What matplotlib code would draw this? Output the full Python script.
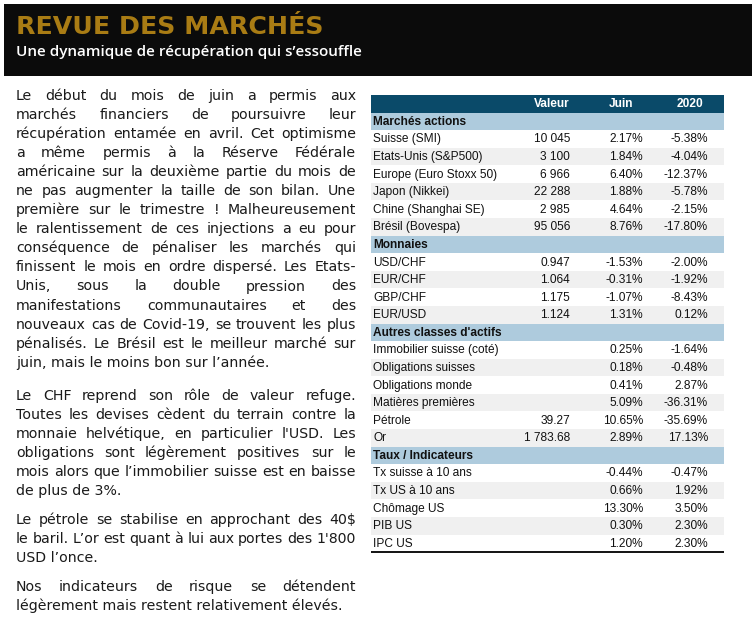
import matplotlib
matplotlib.use("Agg")
import matplotlib.pyplot as plt
from matplotlib.patches import Rectangle

plt.rcParams['text.parse_math'] = False

# --- data -----------------------------------------------------------------
title = "REVUE DES MARCHÉS"
subtitle = "Une dynamique de récupération qui s’essouffle"

paragraphs = [
    ["Le début du mois de juin a permis aux",
     "marchés financiers de poursuivre leur",
     "récupération entamée en avril. Cet optimisme",
     "a même permis à la Réserve Fédérale",
     "américaine sur la deuxième partie du mois de",
     "ne pas augmenter la taille de son bilan. Une",
     "première sur le trimestre ! Malheureusement",
     "le ralentissement de ces injections a eu pour",
     "conséquence de pénaliser les marchés qui",
     "finissent le mois en ordre dispersé. Les Etats-",
     "Unis, sous la double pression des",
     "manifestations communautaires et des",
     "nouveaux cas de Covid-19, se trouvent les plus",
     "pénalisés. Le Brésil est le meilleur marché sur",
     "juin, mais le moins bon sur l’année."],
    ["Le CHF reprend son rôle de valeur refuge.",
     "Toutes les devises cèdent du terrain contre la",
     "monnaie helvétique, en particulier l'USD. Les",
     "obligations sont légèrement positives sur le",
     "mois alors que l’immobilier suisse est en baisse",
     "de plus de 3%."],
    ["Le pétrole se stabilise en approchant des 40$",
     "le baril. L’or est quant à lui aux portes des 1'800",
     "USD l’once."],
    ["Nos indicateurs de risque se détendent",
     "légèrement mais restent relativement élevés."],
]

columns = ["Valeur", "Juin", "2020"]

sections = ["Marchés actions", "Monnaies", "Autres classes d'actifs", "Taux / Indicateurs"]

actions_labels = ["Suisse (SMI)", "Etats-Unis (S&P500)", "Europe (Euro Stoxx 50)",
                  "Japon (Nikkei)", "Chine (Shanghai SE)", "Brésil (Bovespa)"]
actions_valeur = ["10 045", "3 100", "6 966", "22 288", "2 985", "95 056"]
actions_juin = ["2.17%", "1.84%", "6.40%", "1.88%", "4.64%", "8.76%"]
actions_2020 = ["-5.38%", "-4.04%", "-12.37%", "-5.78%", "-2.15%", "-17.80%"]

monnaies_labels = ["USD/CHF", "EUR/CHF", "GBP/CHF", "EUR/USD"]
monnaies_valeur = ["0.947", "1.064", "1.175", "1.124"]
monnaies_juin = ["-1.53%", "-0.31%", "-1.07%", "1.31%"]
monnaies_2020 = ["-2.00%", "-1.92%", "-8.43%", "0.12%"]

autres_labels = ["Immobilier suisse (coté)", "Obligations suisses", "Obligations monde",
                 "Matières premières", "Pétrole", "Or"]
autres_valeur = ["", "", "", "", "39.27", "1 783.68"]
autres_juin = ["0.25%", "0.18%", "0.41%", "5.09%", "10.65%", "2.89%"]
autres_2020 = ["-1.64%", "-0.48%", "2.87%", "-36.31%", "-35.69%", "17.13%"]

taux_labels = ["Tx suisse à 10 ans", "Tx US à 10 ans", "Chômage US", "PIB US", "IPC US"]
taux_valeur = ["", "", "", "", ""]
taux_juin = ["-0.44%", "0.66%", "13.30%", "0.30%", "1.20%"]
taux_2020 = ["-0.47%", "1.92%", "3.50%", "2.30%", "2.30%"]

section_rows = [
    (actions_labels, actions_valeur, actions_juin, actions_2020),
    (monnaies_labels, monnaies_valeur, monnaies_juin, monnaies_2020),
    (autres_labels, autres_valeur, autres_juin, autres_2020),
    (taux_labels, taux_valeur, taux_juin, taux_2020),
]

# --- figure -----------------------------------------------------------------
W, H = 756, 620
fig = plt.figure(figsize=(W / 100, H / 100), dpi=100)
ax = fig.add_axes([0, 0, 1, 1])
ax.set_xlim(0, W)
ax.set_ylim(H, 0)
ax.axis("off")
renderer = fig.canvas.get_renderer()

gold = "#a97c14"
body_font = "DejaVu Sans"
table_font = "Liberation Sans"


def text_width(t):
    return t.get_window_extent(renderer).width


def fit_text(x, y, s, target_w, size, **kw):
    t = ax.text(x, y, s, fontsize=size, va="baseline", **kw)
    t.set_fontsize(size * target_w / text_width(t))
    return t


# header band
ax.add_patch(Rectangle((4, 4), 748, 72, color="#0b0b0b", lw=0))
fit_text(16, 33.5, title, 307, 18, color=gold, family=body_font, weight="bold")
fit_text(16, 56, subtitle, 346, 11, color="white", family="Open Sans", weight="semibold")

# body text, justified
x0, x1 = 16, 356
line_h = 19.05
para_start = [100, 400, 524, 591]

# size the body font so a tightly set line of the reference fills the column
probe = fit_text(0, 0, "mois alors que l’immobilier suisse est en baisse", 338, 10,
                 family=body_font)
body_size = probe.get_fontsize()
probe.remove()

for lines, y0 in zip(paragraphs, para_start):
    for i, line in enumerate(lines):
        y = y0 + i * line_h
        words = line.split(" ")
        last = i == len(lines) - 1
        if last or len(words) == 1:
            ax.text(x0, y, line, fontsize=body_size, family=body_font,
                    color="#1a1a1a", va="baseline")
            continue
        items = [ax.text(0, y, w, fontsize=body_size, family=body_font,
                         color="#1a1a1a", va="baseline") for w in words]
        widths = [text_width(t) for t in items]
        gap = (x1 - x0 - sum(widths)) / (len(words) - 1)
        x = x0
        for t, w in zip(items, widths):
            t.set_x(x)
            x += w + gap

# table
tx0, tx1 = 371, 724
top = 95
row_h = 17.58
col_right = [570, 643, 708]
head_right = [570, 633, 703]
tsize = 8.6

ax.add_patch(Rectangle((tx0, top), tx1 - tx0, row_h, color="#0a4a69", lw=0))
for name, xr in zip(columns, head_right):
    ax.text(xr, top + row_h / 2 + 0.5, name, ha="right", va="center", color="white",
            fontsize=tsize, weight="bold", family=table_font)

row = 1
for sec, (labels, valeur, juin, annee) in zip(sections, section_rows):
    y = top + row * row_h
    ax.add_patch(Rectangle((tx0, y), tx1 - tx0, row_h, color="#aecbdd", lw=0))
    ax.text(tx0 + 2, y + row_h / 2 + 0.5, sec, va="center", fontsize=tsize,
            weight="bold", family=table_font, color="#111111")
    row += 1
    for j, lab in enumerate(labels):
        y = top + row * row_h
        if j % 2 == 1:
            ax.add_patch(Rectangle((tx0, y), tx1 - tx0, row_h, color="#f0f0f0", lw=0))
        ax.text(tx0 + 2, y + row_h / 2 + 0.5, lab, va="center", fontsize=tsize,
                family=table_font, color="#111111")
        for val, xr in zip((valeur[j], juin[j], annee[j]), col_right):
            ax.text(xr, y + row_h / 2 + 0.5, val, ha="right", va="center",
                    fontsize=tsize, family=table_font, color="#111111")
        row += 1

ybot = top + row * row_h
ax.plot([tx0, tx1], [ybot, ybot], color="black", lw=1.3, solid_capstyle="butt")

fig.savefig("out.png", dpi=100, facecolor="white")
